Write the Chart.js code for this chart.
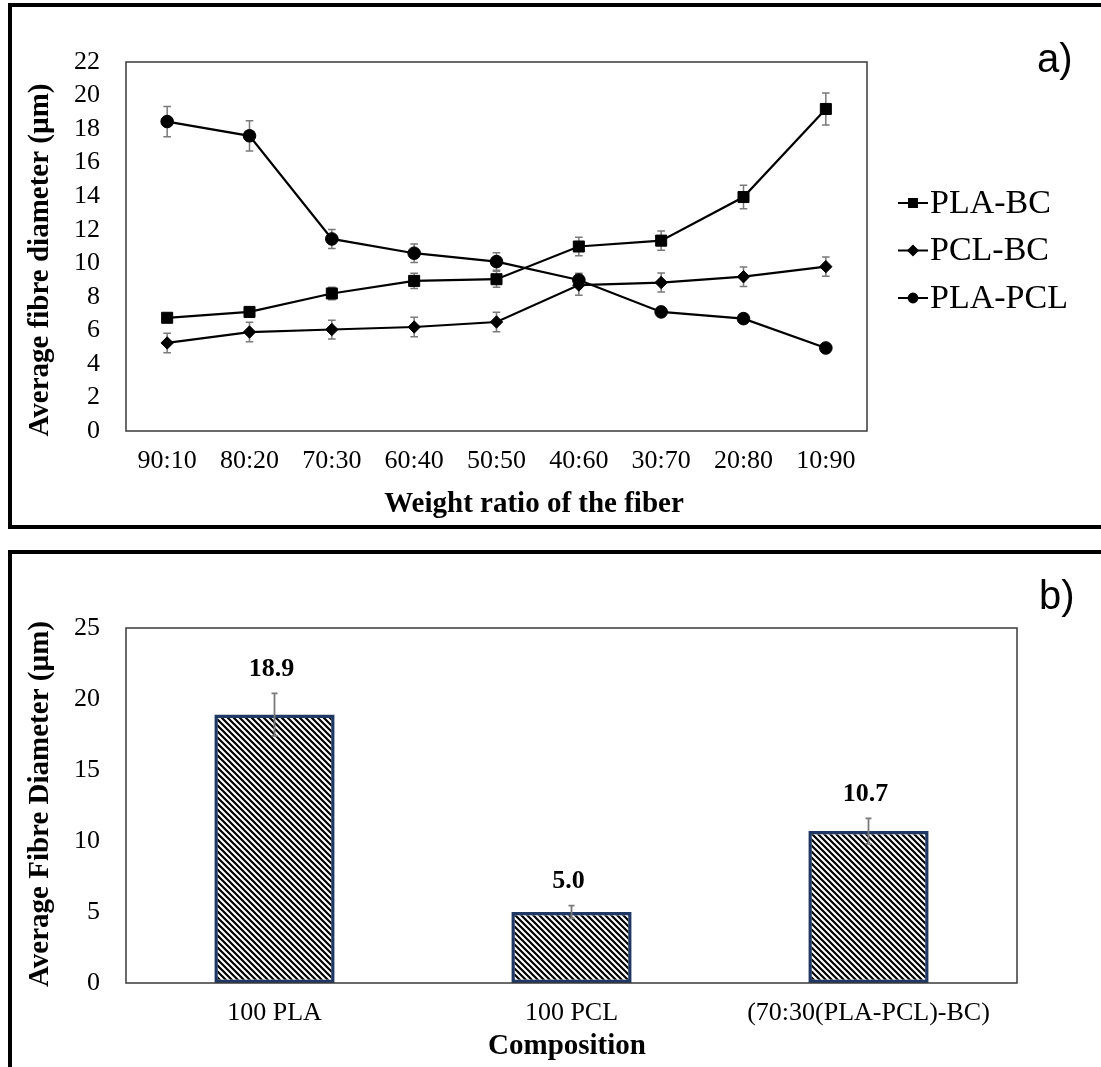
<!DOCTYPE html>
<html><head><meta charset="utf-8">
<script src="https://cdn.jsdelivr.net/npm/chart.js@4.4.1/dist/chart.umd.min.js"></script>
<style>
html,body{margin:0;padding:0;background:#fff;overflow:hidden}
#wrap{position:relative;width:1101px;height:1067px;overflow:hidden}
.frame{position:absolute;border:4px solid #000;box-sizing:border-box}
canvas{position:absolute;left:0}
</style></head><body>
<div id="wrap">
<div class="frame" style="left:8px;top:3px;width:1200px;height:526px"></div>
<div class="frame" style="left:8px;top:550px;width:1200px;height:600px"></div>
<canvas id="c1" width="1101" height="530" style="top:0;width:1101px;height:530px"></canvas>
<canvas id="c2" width="1101" height="517" style="top:550px;width:1101px;height:517px"></canvas>
</div>
<script>
// ---- Data: panel a) ----
const categories = ['90:10','80:20','70:30','60:40','50:50','40:60','30:70','20:80','10:90'];
const plaBC     = [6.75, 7.1, 8.2, 8.95, 9.05, 11.0, 11.35, 13.95, 19.2];
const plaBCErr  = [0.2, 0.3, 0.37, 0.45, 0.48, 0.55, 0.57, 0.7, 0.95];
const pclBC     = [5.25, 5.9, 6.05, 6.2, 6.5, 8.7, 8.85, 9.2, 9.8];
const pclBCErr  = [0.58, 0.58, 0.56, 0.58, 0.58, 0.6, 0.57, 0.58, 0.58];
const plaPCL    = [18.45, 17.6, 11.45, 10.6, 10.1, 9.0, 7.1, 6.7, 4.95];
const plaPCLErr = [0.9, 0.9, 0.57, 0.55, 0.52, 0.4, 0.25, 0.25, 0.2];
const seriesNames = ['PLA-BC','PCL-BC','PLA-PCL'];
// ---- Data: panel b) ----
const compositions = ['100 PLA','100 PCL','(70:30(PLA-PCL)-BC)'];
const avgDiam      = [18.9, 5.0, 10.7];
const avgDiamErr   = [1.5, 0.45, 0.9];

const SERIF = '"Liberation Serif","Times New Roman",serif';
const SANS = '"Liberation Sans",Arial,sans-serif';
Chart.defaults.font.family = SERIF;
Chart.defaults.color = '#000';

function drawErrors(chart, dsIndex, errs, capHalf, color, lw){
  const ctx = chart.ctx, meta = chart.getDatasetMeta(dsIndex), ys = chart.scales.y;
  const vals = chart.data.datasets[dsIndex].data;
  ctx.save(); ctx.strokeStyle = color; ctx.lineWidth = lw;
  meta.data.forEach((el, j) => {
    const x = el.x, t = ys.getPixelForValue(vals[j] + errs[j]), b = ys.getPixelForValue(vals[j] - errs[j]);
    ctx.beginPath();
    ctx.moveTo(x, t); ctx.lineTo(x, b);
    ctx.moveTo(x - capHalf, t); ctx.lineTo(x + capHalf, t);
    ctx.moveTo(x - capHalf, b); ctx.lineTo(x + capHalf, b);
    ctx.stroke();
  });
  ctx.restore();
}
function drawFrame(chart){
  const a = chart.chartArea, ctx = chart.ctx;
  ctx.save(); ctx.strokeStyle = '#3a3a3a'; ctx.lineWidth = 1.5;
  ctx.strokeRect(a.left, a.top, a.right - a.left, a.bottom - a.top);
  ctx.restore();
}
function text(ctx, s, x, y, font, align, base, rot){
  ctx.save(); ctx.font = font; ctx.fillStyle = '#000';
  ctx.textAlign = align || 'center'; ctx.textBaseline = base || 'middle';
  ctx.translate(x, y); if (rot) ctx.rotate(rot);
  ctx.fillText(s, 0, 0); ctx.restore();
}

// ---- Chart a) ----
const errsA = [plaBCErr, pclBCErr, plaPCLErr];
const styles = [
  {pointStyle:'rect', radius:7.8, legendR:5.6},
  {pointStyle:'rectRot', radius:6.2, legendR:4.6},
  {pointStyle:'circle', radius:6.3, legendR:4.4}
];
const pluginA = {
  id:'pa',
  beforeDatasetsDraw(chart){
    errsA.forEach((e,i) => drawErrors(chart, i, e, 3.8, '#7a7a7a', 1.5));
  },
  afterDraw(chart){
    const ctx = chart.ctx;
    drawFrame(chart);
    text(ctx, 'Average fibre diameter (µm)', 41, 260, 'bold 29px ' + SERIF, 'center', 'middle', -Math.PI/2);
    text(ctx, 'Weight ratio of the fiber', 534, 505, 'bold 29px ' + SERIF);
    text(ctx, 'a)', 1037, 72, '40px ' + SANS, 'left', 'alphabetic');
    // legend
    chart.data.datasets.forEach((ds, i) => {
      const y = 203 + i * 47.5;
      ctx.save(); ctx.strokeStyle = '#000'; ctx.lineWidth = 2;
      ctx.beginPath(); ctx.moveTo(898, y); ctx.lineTo(928, y); ctx.stroke();
      ctx.fillStyle = '#000';
      Chart.helpers.drawPoint(ctx, {pointStyle: styles[i].pointStyle, radius: styles[i].legendR, rotation: 0, borderWidth: 1}, 913, y);
      ctx.fill(); ctx.restore();
      text(ctx, ds.label, 930, y + 1, '34px ' + SERIF, 'left', 'middle');
    });
  }
};
new Chart(document.getElementById('c1'), {
  type:'line',
  data:{
    labels: categories,
    datasets: [plaBC, pclBC, plaPCL].map((d, i) => ({
      label: seriesNames[i], data: d, borderColor:'#000', backgroundColor:'#000', borderWidth:2.2,
      pointStyle: styles[i].pointStyle, pointRadius: styles[i].radius, pointBorderWidth:1,
      pointBackgroundColor:'#000', pointBorderColor:'#000', tension:0, fill:false
    }))
  },
  options:{
    responsive:false, animation:false, devicePixelRatio:1,
    layout:{padding:{left:0, top:62, right:234, bottom:0}},
    plugins:{legend:{display:false}, tooltip:{enabled:false}},
    scales:{
      x:{offset:true, grid:{display:false, drawTicks:false}, border:{display:false},
         ticks:{font:{size:26}, color:'#000', padding:15, maxRotation:0, autoSkip:false},
         afterFit(s){ s.height = 99; }},
      y:{min:0, max:22, grid:{display:false, drawTicks:false}, border:{display:false},
         ticks:{stepSize:2, font:{size:26}, color:'#000', padding:26, autoSkip:false},
         afterFit(s){ s.width = 126; }}
    }
  },
  plugins:[pluginA]
});

// ---- Chart b) ----
function hatch(){
  const s = 6, c = document.createElement('canvas'); c.width = s; c.height = s;
  const g = c.getContext('2d'); g.fillStyle = '#fff'; g.fillRect(0,0,s,s);
  g.strokeStyle = '#000'; g.lineWidth = 2.2; g.beginPath();
  g.moveTo(-1,-1); g.lineTo(s+1,s+1);
  g.moveTo(-1,s-1); g.lineTo(1,s+1);
  g.moveTo(s-1,-1); g.lineTo(s+1,1);
  g.stroke();
  return g.createPattern(c, 'repeat');
}
const pluginB = {
  id:'pb',
  afterDatasetsDraw(chart){
    drawErrors(chart, 0, avgDiamErr, 3, '#7a7a7a', 1.8);
    const meta = chart.getDatasetMeta(0), ys = chart.scales.y;
    meta.data.forEach((el, j) => {
      const y = ys.getPixelForValue(avgDiam[j] + avgDiamErr[j]) - 24;
      text(chart.ctx, avgDiam[j].toFixed(1), el.x - 3, y, 'bold 26px ' + SERIF);
    });
  },
  afterDraw(chart){
    const ctx = chart.ctx;
    drawFrame(chart);
    text(ctx, 'Average Fibre Diameter (µm)', 41, 254, 'bold 29px ' + SERIF, 'center', 'middle', -Math.PI/2);
    text(ctx, 'Composition', 567, 497, 'bold 29px ' + SERIF);
    text(ctx, 'b)', 1039, 59, '40px ' + SANS, 'left', 'alphabetic');
  }
};
new Chart(document.getElementById('c2'), {
  type:'bar',
  data:{
    labels: compositions,
    datasets:[{label:'Average Fibre Diameter', data: avgDiam, backgroundColor: hatch(),
      borderColor:'#1F3864', borderWidth:3.5, borderSkipped:false,
      categoryPercentage:1, barPercentage:0.405}]
  },
  options:{
    responsive:false, animation:false, devicePixelRatio:1,
    layout:{padding:{left:0, top:78, right:84, bottom:0}},
    plugins:{legend:{display:false}, tooltip:{enabled:false}},
    scales:{
      x:{grid:{display:false, drawTicks:false}, border:{display:false},
         ticks:{font:{size:26}, color:'#000', padding:15, maxRotation:0, autoSkip:false},
         afterFit(s){ s.height = 84; }},
      y:{min:0, max:25, grid:{display:false, drawTicks:false}, border:{display:false},
         ticks:{stepSize:5, font:{size:26}, color:'#000', padding:26, autoSkip:false},
         afterFit(s){ s.width = 126; }}
    }
  },
  plugins:[pluginB]
});
</script>
</body></html>
